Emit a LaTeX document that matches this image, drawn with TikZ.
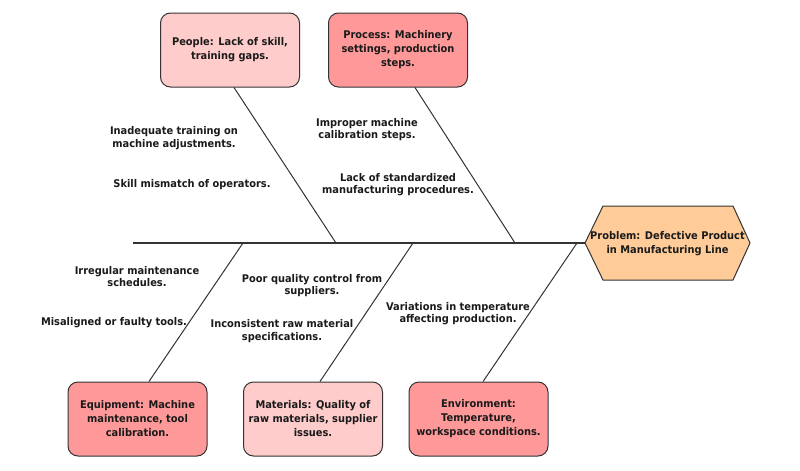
\documentclass[tikz,border=0pt]{standalone}
\usepackage{fontspec}
\setmainfont{DejaVu Sans}[FakeStretch=0.93]
\definecolor{linec}{HTML}{333333}
\definecolor{lightc}{HTML}{FFCCCC}
\definecolor{darkc}{HTML}{FF9999}
\definecolor{hexc}{HTML}{FFCC99}
\definecolor{textc}{HTML}{1A1A1A}
\newcommand\myboxfont{\bfseries\fontsize{7.95pt}{10.5pt}\selectfont}
\newcommand\mynotefont{\bfseries\fontsize{7.95pt}{9.3pt}\selectfont}
\begin{document}
\begin{tikzpicture}[x=0.75pt,y=-0.75pt,
  cause/.style={draw=linec, line width=0.75pt, rounded corners=7.5pt,
    minimum width=104.25pt, minimum height=55.5pt, align=center,
    font=\myboxfont, inner sep=0pt, text=textc},
  note/.style={align=center, font=\mynotefont, inner sep=0pt, text=textc},
  bone/.style={draw=linec, line width=0.75pt},
  spine/.style={draw=linec, line width=0.85pt}]
\useasboundingbox (0,0) rectangle (800,471);

% head
\draw[fill=hexc, draw=linec, line width=0.75pt]
  (585,243) -- (603,206) -- (733,206) -- (750,243) -- (733,280) -- (603,280) -- cycle;
\node[note, font=\myboxfont] (problem) at (667.5,244) {Problem: Defective Product\\in Manufacturing Line};
\coordinate (head) at (585,243);
\coordinate (tail) at (133,243);
\draw[spine] (tail) -- (head);

% cause boxes
\node[cause, fill=lightc] (people) at (230,50) {People: Lack of skill,\\training gaps.};
\node[cause, fill=darkc] (process) at (398,50) {Process: Machinery\\settings, production\\steps.};
\node[cause, fill=darkc] (equipment) at (137.5,419) {Equipment: Machine\\maintenance, tool\\calibration.};
\node[cause, fill=lightc] (materials) at (313,419) {Materials: Quality of\\raw materials, supplier\\issues.};
\node[cause, fill=darkc] (environment) at (478.5,419) {Environment:\\Temperature,\\workspace conditions.};

% junctions on spine
\coordinate (pJ) at (336,243);
\coordinate (prJ) at (515,243);
\coordinate (eqJ) at (243,243);
\coordinate (mJ) at (413,243);
\coordinate (enJ) at (577,243);

% bones
\draw[bone] ([xshift=3pt]people.south) -- (pJ);
\draw[bone] ([xshift=12.75pt]process.south) -- (prJ);
\draw[bone] ([xshift=8.6pt]equipment.north) -- (eqJ);
\draw[bone] ([xshift=5.25pt]materials.north) -- (mJ);
\draw[bone] ([xshift=3.4pt]environment.north) -- (enJ);

% sub-causes
\node[note] (n1) at (174,138) {Inadequate training on\\machine adjustments.};
\node[note] (n2) at (192,185) {Skill mismatch of operators.};
\node[note] (n3) at (367,129.5) {Improper machine\\calibration steps.};
\node[note] (n4) at (398,184.5) {Lack of standardized\\manufacturing procedures.};
\node[note] (n5) at (137,276.5) {Irregular maintenance\\schedules.};
\node[note] (n6) at (114,323) {Misaligned or faulty tools.};
\node[note] (n7) at (312,285.5) {Poor quality control from\\suppliers.};
\node[note] (n8) at (282,331) {Inconsistent raw material\\specifications.};
\node[note] (n9) at (458,313.5) {Variations in temperature\\affecting production.};
\end{tikzpicture}
\end{document}
